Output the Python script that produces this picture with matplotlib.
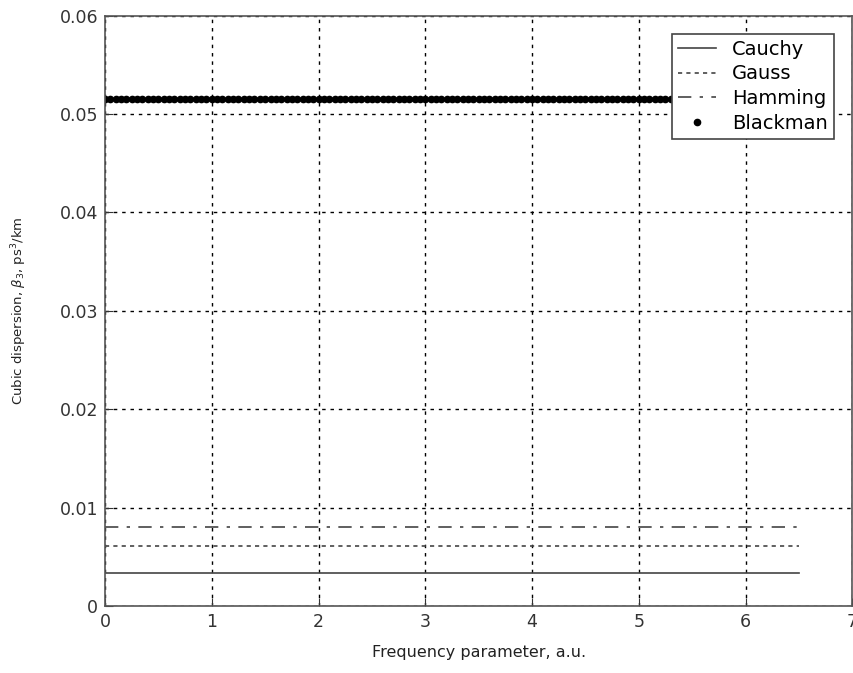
import numpy as np
import matplotlib.pyplot as plt

# frequency grid (a.u.)
freq = np.arange(0, 6.5001, 0.05)

# constant cubic dispersion values, ps^3/km
cauchy_val = 0.00335
gauss_val = 0.0061
hamming_val = 0.0080
blackman_val = 0.0515

xticks = [0, 1, 2, 3, 4, 5, 6, 7]
yticks = [0, 0.01, 0.02, 0.03, 0.04, 0.05, 0.06]
yticklabels = ["0", "0.01", "0.02", "0.03", "0.04", "0.05", "0.06"]

fig = plt.figure(figsize=(8.54, 6.73), dpi=100)
ax = fig.add_axes([0.123, 0.0996, 0.875, 0.877])

ax.plot(freq, np.full_like(freq, cauchy_val), '-', color='#444444', lw=1.2, label='Cauchy')
ax.plot(freq, np.full_like(freq, gauss_val), color='#444444', lw=1.2,
        linestyle=(0, (2.5, 2.5)), label='Gauss')
ax.plot(freq, np.full_like(freq, hamming_val), color='#444444', lw=1.2,
        linestyle=(0, (8, 5, 2, 5)), label='Hamming')
ax.plot(freq, np.full_like(freq, blackman_val), 'o', color='black', ms=4.5,
        mec='black', label='Blackman')

ax.set_xlim(0, 7)
ax.set_ylim(0, 0.06)
ax.set_xticks(xticks)
ax.set_yticks(yticks)
ax.set_yticklabels(yticklabels)
ax.tick_params(direction='in', length=6, labelsize=12.5, colors='#333333', pad=5)

ax.grid(True, color='black', linestyle=(0, (2.5, 3.5)), lw=1.0)
for s in ax.spines.values():
    s.set_color('#555555')
    s.set_linewidth(1.2)

ax.set_xlabel('Frequency parameter, a.u.', fontsize=11.5, color='#222222', labelpad=10)
ax.set_ylabel(r'Cubic dispersion, $\beta_3$, ps$^3$/km', fontsize=9.5, color='#222222',
              labelpad=22)

leg = ax.legend(loc='upper right', bbox_to_anchor=(0.988, 0.986), fontsize=14,
                frameon=True, fancybox=False, edgecolor='#444444', framealpha=1,
                handlelength=2.0, handletextpad=0.8, borderpad=0.3,
                labelspacing=0.3)
leg.get_frame().set_linewidth(1.2)

fig.savefig('out.png', dpi=100)
